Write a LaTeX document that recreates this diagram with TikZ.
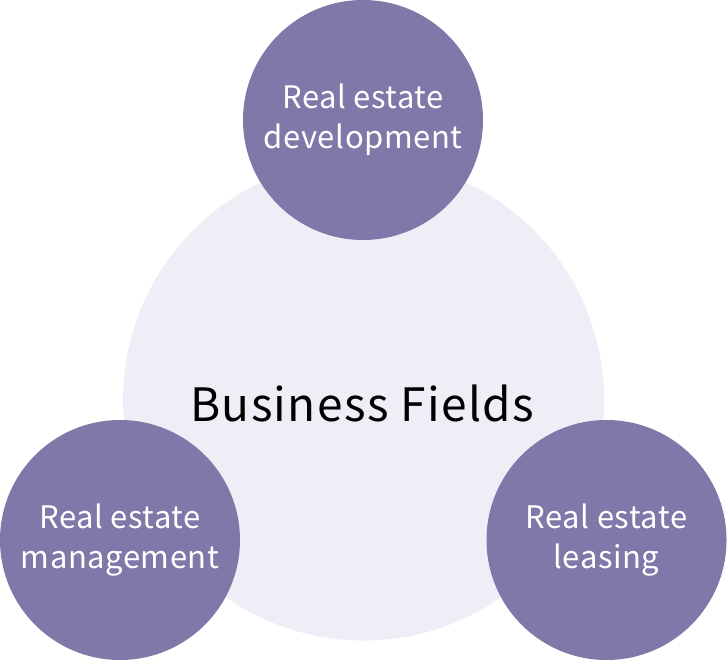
\documentclass[tikz,border=0pt]{standalone}
\usepackage{fontspec}
\setmainfont[LetterSpace=3]{Noto Sans CJK JP}
\newfontfamily\fieldfont[LetterSpace=1.8]{Noto Sans CJK JP}
\definecolor{bigc}{HTML}{EFEEF7}
\definecolor{smallc}{HTML}{7F78A8}
\begin{document}
\begin{tikzpicture}[x=1pt,y=-1pt,
  field/.style={circle,fill=smallc,minimum size=240pt,inner sep=0pt,text=white,
    font=\fieldfont\fontsize{31}{40}\selectfont,align=center},
  core/.style={circle,fill=bigc,minimum size=481pt,inner sep=0pt}]
\useasboundingbox (0,0) rectangle (727,660);
\node[core] (core) at (363.5,400) {};
\node at (362,403) (label) {\fontsize{46}{55}\selectfont Business Fields};
\node[field] (dev) at (363,120) {Real estate\\development};
\node[field] (mgmt) at (120,540) {Real estate\\management};
\node[field] (lease) at (606.5,540) {Real estate\\leasing};
\end{tikzpicture}
\end{document}
